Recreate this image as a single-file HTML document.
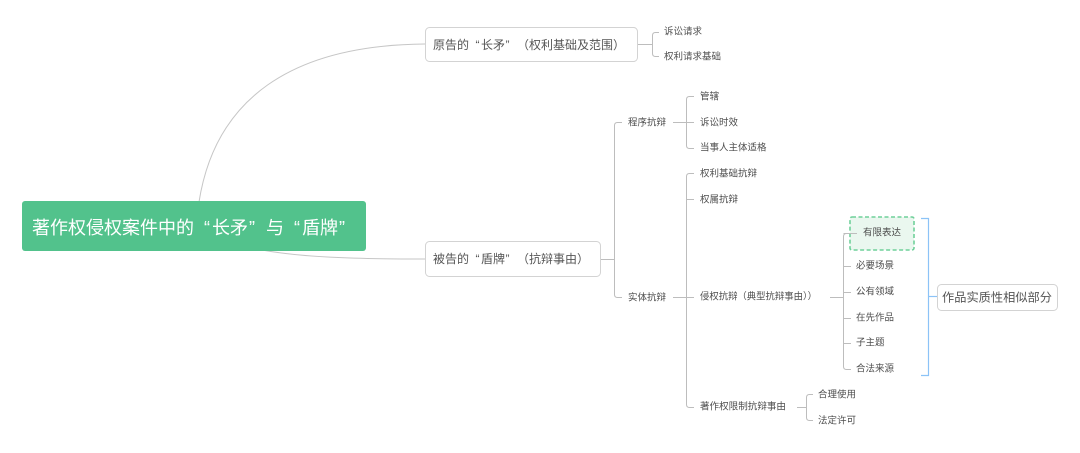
<!DOCTYPE html>
<html><head><meta charset="utf-8"><style>
html,body{margin:0;padding:0;background:#fff;}
svg{display:block;}
text{font-family:"Liberation Sans","Noto Sans CJK SC",sans-serif;}
</style></head><body>
<svg width="1080" height="453" viewBox="0 0 1080 453" xmlns="http://www.w3.org/2000/svg">
<rect width="1080" height="453" fill="#fff"/>
<!-- curves -->
<path d="M199,202 C215,100 290,45 425,44" fill="none" stroke="#c6c6c6" stroke-width="1"/>
<path d="M262,250 C300,257 350,259 425,259" fill="none" stroke="#c6c6c6" stroke-width="1"/>

<!-- root -->
<rect x="22" y="201" width="344" height="50" rx="3" fill="#52c28c"/>
<g font-size="18" fill="#fff" dominant-baseline="central">
<text x="32" y="228">著作权侵权案件中的</text>
<text x="204" y="228">“</text>
<text x="212" y="228">长矛</text>
<text x="249" y="228">”</text>
<text x="266" y="228">与</text>
<text x="294" y="228">“</text>
<text x="302" y="228">盾牌</text>
<text x="339" y="228">”</text>
</g>

<!-- node1 -->
<rect x="425.5" y="27.5" width="212" height="34" rx="4" fill="#fff" stroke="#d3d3d3"/>
<g font-size="12" fill="#555" dominant-baseline="central">
<text x="433" y="45">原告的</text>
<text x="475.5" y="45">“</text>
<text x="481" y="45">长矛</text>
<text x="505.5" y="45">”</text>
<text x="517" y="45">（权利基础及范围）</text>
</g>

<!-- node2 -->
<rect x="425.5" y="241.5" width="175" height="35" rx="4" fill="#fff" stroke="#d3d3d3"/>
<g font-size="12" fill="#555" dominant-baseline="central">
<text x="433" y="259">被告的</text>
<text x="475.5" y="259">“</text>
<text x="481" y="259">盾牌</text>
<text x="505.5" y="259">”</text>
<text x="517" y="259">（抗辩事由）</text>
</g>

<g fill="none" stroke="#bdbdbd" stroke-width="1">
<path d="M638,44.5 H652.5"/>
<path d="M659,32.5 H655.5 Q652.5,32.5 652.5,35.5 V53.5 Q652.5,56.5 655.5,56.5 H659"/>
<path d="M601,259.5 H614.5"/>
<path d="M622,122.5 H617.5 Q614.5,122.5 614.5,125.5 V294.5 Q614.5,297.5 617.5,297.5 H622"/>
<path d="M673,122.5 H694"/>
<path d="M694,96.5 H689.5 Q686.5,96.5 686.5,99.5 V145.5 Q686.5,148.5 689.5,148.5 H694"/>
<path d="M673,297.5 H694"/>
<path d="M694,173.5 H689.5 Q686.5,173.5 686.5,176.5 V404.5 Q686.5,407.5 689.5,407.5 H694"/>
<path d="M686.5,199.5 H694"/>
<path d="M830,297.5 H843.5"/>
<path d="M857,233.5 H846.5 Q843.5,233.5 843.5,236.5 V366.5 Q843.5,369.5 846.5,369.5 H851"/>
<path d="M843.5,266.5 H851"/>
<path d="M843.5,292.5 H851"/>
<path d="M843.5,318.5 H851"/>
<path d="M843.5,343.5 H851"/>
<path d="M797,407.5 H806.5"/>
<path d="M813,394.5 H809.5 Q806.5,394.5 806.5,397.5 V417.5 Q806.5,420.5 809.5,420.5 H813"/>
</g>

<!-- dashed box -->
<rect x="850" y="217" width="64" height="33" rx="2" fill="#eaf7ef" stroke="#6fd09a" stroke-width="1.6" stroke-dasharray="4,2.5"/>
<path d="M843.5,233.5 H857" stroke="#bdbdbd" fill="none"/>

<!-- blue bracket -->
<path d="M921,218.5 H928.5 V375.5 H921" fill="none" stroke="#8cc3f7" stroke-width="1.2"/>
<path d="M928.5,296.5 H937" fill="none" stroke="#8cc3f7" stroke-width="1.2"/>
<rect x="937.5" y="284.5" width="120" height="26" rx="4" fill="#fff" stroke="#d3d3d3"/>
<text x="942" y="297.5" font-size="12" fill="#555" dominant-baseline="central" textLength="110" lengthAdjust="spacingAndGlyphs">作品实质性相似部分</text>

<g font-size="9.5" fill="#4d4d4d" dominant-baseline="central">
<text x="664" y="32">诉讼请求</text>
<text x="664" y="57">权利请求基础</text>
<text x="628" y="123">程序抗辩</text>
<text x="628" y="298">实体抗辩</text>
<text x="700" y="97">管辖</text>
<text x="700" y="123">诉讼时效</text>
<text x="700" y="148">当事人主体适格</text>
<text x="700" y="174">权利基础抗辩</text>
<text x="700" y="200">权属抗辩</text>
<text x="700" y="297" textLength="117" lengthAdjust="spacingAndGlyphs">侵权抗辩（典型抗辩事由））</text>
<text x="700" y="407" textLength="86" lengthAdjust="spacingAndGlyphs">著作权限制抗辩事由</text>
<text x="863" y="233">有限表达</text>
<text x="856" y="266">必要场景</text>
<text x="856" y="292">公有领域</text>
<text x="856" y="318">在先作品</text>
<text x="856" y="343">子主题</text>
<text x="856" y="369">合法来源</text>
<text x="818" y="395">合理使用</text>
<text x="818" y="421">法定许可</text>
</g>
</svg>
</body></html>
